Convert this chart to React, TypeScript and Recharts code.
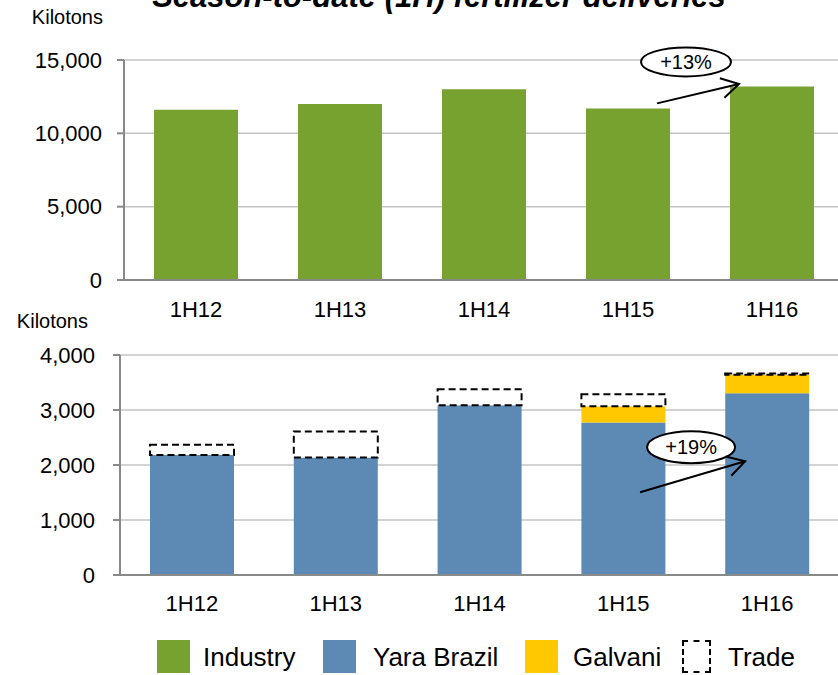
import React from 'react';
import { BarChart, Bar, XAxis, YAxis, CartesianGrid, ReferenceDot, Legend } from 'recharts';

const periods = ['1H12', '1H13', '1H14', '1H15', '1H16'];
const industry = [11600, 12000, 13000, 11700, 13200];
const yaraBrazil = [2180, 2135, 3085, 2775, 3305];
const galvani = [0, 0, 0, 293, 338];
const trade = [190, 475, 292, 218, 22];
const topTicks = [0, 5000, 10000, 15000];
const bottomTicks = [0, 1000, 2000, 3000, 4000];
const seriesNames = ['Industry', 'Yara Brazil', 'Galvani', 'Trade'];
const annotations = ['+13%', '+19%'];
const titleText = 'Season-to-date (1H) fertilizer deliveries';
const unitLabel = 'Kilotons';

const GREEN = '#78A22F';
const BLUE = '#5D8AB4';
const YELLOW = '#FFC800';
const FONT = '"Liberation Sans", Arial, sans-serif';

const topData = periods.map((p, i) => ({ period: p, industry: industry[i] }));
const bottomData = periods.map((p, i) => ({
  period: p,
  yara: yaraBrazil[i],
  galvani: galvani[i],
  trade: trade[i],
}));

const fmt = (v: number) => v.toLocaleString('en-US');

function Callout(props: any) {
  const { cx, cy, text, ex, ey, sx, sy, ox, oy, rx, ry } = props;
  if (cx == null || cy == null) return null;
  const x1 = cx + sx, y1 = cy + sy, x2 = cx + ex, y2 = cy + ey;
  const ang = Math.atan2(y2 - y1, x2 - x1);
  const L = 20, a = Math.PI / 6;
  const h1x = x2 - L * Math.cos(ang - a), h1y = y2 - L * Math.sin(ang - a);
  const h2x = x2 - L * Math.cos(ang + a), h2y = y2 - L * Math.sin(ang + a);
  return (
    <g>
      <ellipse cx={cx + ox} cy={cy + oy} rx={rx} ry={ry} fill="#fff" stroke="#000" strokeWidth={2} />
      <text x={cx + ox} y={cy + oy} dy="0.36em" textAnchor="middle" fontSize={20} fontFamily={FONT} fill="#000">{text}</text>
      <line x1={x1} y1={y1} x2={x2} y2={y2} stroke="#000" strokeWidth={2} />
      <polyline points={`${h1x},${h1y} ${x2},${y2} ${h2x},${h2y}`} fill="none" stroke="#000" strokeWidth={2} />
    </g>
  );
}

const axisStroke = '#898989';
const gridStroke = '#C4C4C4';
const tickStyle = { fill: '#000', fontSize: 22, fontFamily: FONT };

function LegendBox() {
  const sq = { position: 'absolute' as const, top: 20, width: 33, height: 33, boxSizing: 'border-box' as const };
  const txt = { position: 'absolute' as const, top: 22, fontSize: 26, fontFamily: FONT, color: '#000', lineHeight: '30px', whiteSpace: 'nowrap' as const };
  return (
    <div style={{ position: 'relative', width: 838, height: 55 }}>
      <div style={{ ...sq, left: 157, background: GREEN }} />
      <div style={{ ...txt, left: 203 }}>{seriesNames[0]}</div>
      <div style={{ ...sq, left: 323, background: BLUE }} />
      <div style={{ ...txt, left: 373 }}>{seriesNames[1]}</div>
      <div style={{ ...sq, left: 525, background: YELLOW }} />
      <div style={{ ...txt, left: 573 }}>{seriesNames[2]}</div>
      <div style={{ ...sq, left: 682, width: 29, border: '2px dashed #000', background: '#fff' }} />
      <div style={{ ...txt, left: 728 }}>{seriesNames[3]}</div>
    </div>
  );
}

export default function App() {
  return (
    <div style={{ position: 'absolute', top: 0, left: 0, width: 838, height: 675, overflow: 'hidden', background: '#fff', fontFamily: FONT }}>
      <svg style={{ position: 'absolute', top: 0, left: 0 }} width={838} height={30}>
        <text x={439} y={7} textAnchor="middle" fontSize={31} fontWeight="bold" fontStyle="italic" fontFamily={FONT} fill="#000">{titleText}</text>
      </svg>
      <div style={{ position: 'absolute', top: 0, left: 0 }}>
        <BarChart width={844} height={330} data={topData} margin={{ top: 60, right: 0, left: 0, bottom: 0 }} barSize={84}>
          <CartesianGrid horizontal vertical={false} stroke={gridStroke} strokeWidth={1.5} />
          <XAxis dataKey="period" height={50} tickLine={false} tickSize={0} tickMargin={21} stroke={axisStroke} strokeWidth={2} tick={tickStyle} interval={0} />
          <YAxis width={124} domain={[0, 15000]} ticks={topTicks} tickFormatter={fmt} tickSize={7} tickMargin={15} stroke={axisStroke} strokeWidth={2} tick={tickStyle}
            label={{ content: (p: any) => <text x={p.viewBox.x + p.viewBox.width - 21} y={p.viewBox.y - 36} textAnchor="end" fontSize={20} fontFamily={FONT} fill="#000">{unitLabel}</text> }} />
          <Bar dataKey="industry" name={seriesNames[0]} fill={GREEN} isAnimationActive={false} />
          <ReferenceDot x={periods[4]} y={industry[4]} ifOverflow="visible" r={0}
            shape={(p: any) => <Callout cx={p.cx} cy={p.cy} text={annotations[0]} sx={-115} sy={17} ex={-33} ey={-2.4} ox={-86} oy={-24.5} rx={45} ry={14.5} />} />
        </BarChart>
      </div>
      <div style={{ position: 'absolute', top: 300, left: 0 }}>
        <BarChart width={840} height={375} data={bottomData} margin={{ top: 55, right: 1, left: 0, bottom: 0 }} barSize={84}>
          <CartesianGrid horizontal vertical={false} stroke={gridStroke} strokeWidth={1.5} />
          <XAxis dataKey="period" height={45} tickLine={false} tickSize={0} tickMargin={20} stroke={axisStroke} strokeWidth={2} tick={tickStyle} interval={0} />
          <YAxis width={120} domain={[0, 4000]} ticks={bottomTicks} tickFormatter={fmt} tickSize={7} tickMargin={18} stroke={axisStroke} strokeWidth={2} tick={tickStyle}
            label={{ content: (p: any) => <text x={p.viewBox.x + p.viewBox.width - 32} y={p.viewBox.y - 27} textAnchor="end" fontSize={20} fontFamily={FONT} fill="#000">{unitLabel}</text> }} />
          <Legend verticalAlign="bottom" align="left" wrapperStyle={{ left: 0, width: 838, height: 55 }} content={() => <LegendBox />} />
          <Bar dataKey="yara" stackId="s" name={seriesNames[1]} fill={BLUE} isAnimationActive={false} />
          <Bar dataKey="galvani" stackId="s" name={seriesNames[2]} fill={YELLOW} isAnimationActive={false} />
          <Bar dataKey="trade" stackId="s" name={seriesNames[3]} fill="#fff" stroke="#000" strokeWidth={2} strokeDasharray="7 4" isAnimationActive={false} />
          <ReferenceDot x={periods[4]} y={yaraBrazil[4]} ifOverflow="visible" r={0}
            shape={(p: any) => <Callout cx={p.cx} cy={p.cy} text={annotations[1]} sx={-127} sy={99} ex={-22} ey={68} ox={-76} oy={54} rx={44} ry={16} />} />
        </BarChart>
      </div>
    </div>
  );
}
